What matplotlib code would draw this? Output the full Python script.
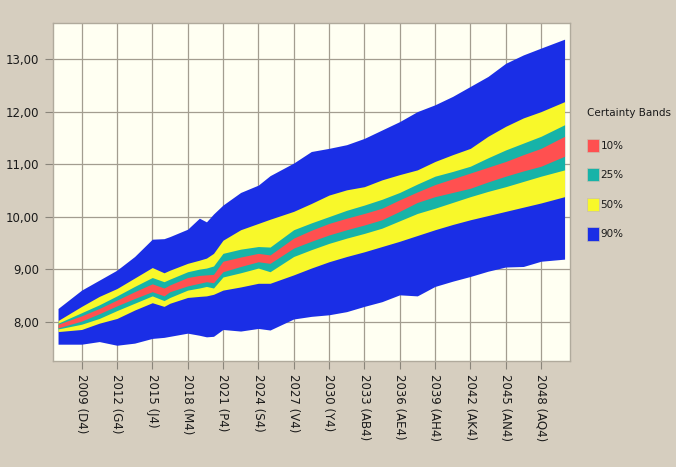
import matplotlib.pyplot as plt
from matplotlib.patches import Patch

# sample years
years = [2007, 2009, 2010.5, 2012, 2013.5, 2015, 2016, 2016.5, 2018, 2019, 2019.6, 2020.2,
         2021, 2022.5, 2024, 2025, 2027, 2028.5, 2030, 2031.5, 2033, 2034.5, 2036, 2037.5,
         2039, 2040.5, 2042, 2043.5, 2045, 2046.5, 2048, 2050]

# band edges (upper / lower) for each certainty band
blue_hi = [8.25, 8.60, 8.79, 8.98, 9.24, 9.57, 9.58, 9.62, 9.76, 9.97, 9.90, 10.05,
           10.22, 10.46, 10.60, 10.78, 11.02, 11.24, 11.30, 11.37, 11.49, 11.65, 11.81, 12.00,
           12.13, 12.29, 12.48, 12.67, 12.92, 13.08, 13.21, 13.38]
yel_hi = [8.02, 8.29, 8.48, 8.63, 8.83, 9.03, 8.93, 8.98, 9.11, 9.17, 9.21, 9.30,
          9.55, 9.75, 9.87, 9.95, 10.10, 10.25, 10.41, 10.51, 10.57, 10.70, 10.80, 10.89,
          11.05, 11.18, 11.30, 11.53, 11.72, 11.88, 12.00, 12.19]
teal_hi = [7.97, 8.17, 8.32, 8.49, 8.67, 8.84, 8.76, 8.81, 8.95, 9.00, 9.02, 9.06,
           9.30, 9.38, 9.43, 9.42, 9.75, 9.88, 10.00, 10.12, 10.22, 10.33, 10.46, 10.62,
           10.77, 10.86, 10.96, 11.12, 11.27, 11.40, 11.53, 11.75]
red_hi = [7.95, 8.11, 8.25, 8.41, 8.57, 8.72, 8.64, 8.70, 8.84, 8.88, 8.89, 8.90,
          9.15, 9.23, 9.30, 9.27, 9.59, 9.74, 9.87, 9.97, 10.06, 10.16, 10.32, 10.47,
          10.61, 10.72, 10.83, 10.94, 11.05, 11.18, 11.30, 11.53]
red_lo = [7.88, 8.01, 8.15, 8.30, 8.44, 8.57, 8.49, 8.57, 8.68, 8.73, 8.76, 8.74,
          8.95, 9.05, 9.14, 9.11, 9.40, 9.53, 9.65, 9.75, 9.84, 9.94, 10.10, 10.27,
          10.38, 10.46, 10.54, 10.66, 10.77, 10.87, 10.96, 11.15]
teal_lo = [7.86, 7.95, 8.06, 8.21, 8.35, 8.49, 8.40, 8.46, 8.60, 8.64, 8.67, 8.64,
           8.85, 8.93, 9.02, 8.95, 9.24, 9.37, 9.49, 9.59, 9.68, 9.78, 9.92, 10.06,
           10.16, 10.27, 10.38, 10.48, 10.57, 10.67, 10.77, 10.89]
yel_lo = [7.81, 7.85, 7.97, 8.06, 8.22, 8.36, 8.29, 8.35, 8.46, 8.48, 8.49, 8.52,
          8.60, 8.66, 8.73, 8.73, 8.89, 9.02, 9.14, 9.24, 9.33, 9.43, 9.53, 9.64,
          9.75, 9.85, 9.94, 10.02, 10.10, 10.18, 10.26, 10.38]
blue_lo = [7.57, 7.57, 7.62, 7.55, 7.59, 7.68, 7.70, 7.72, 7.78, 7.74, 7.71, 7.72,
           7.85, 7.82, 7.87, 7.84, 8.05, 8.10, 8.13, 8.19, 8.29, 8.38, 8.51, 8.49,
           8.67, 8.77, 8.86, 8.96, 9.04, 9.05, 9.15, 9.19]

tick_years = [2009, 2012, 2015, 2018, 2021, 2024, 2027, 2030, 2033, 2036, 2039, 2042, 2045, 2048]
tick_labels = ['2009 (D4)', '2012 (G4)', '2015 (J4)', '2018 (M4)', '2021 (P4)', '2024 (S4)',
               '2027 (V4)', '2030 (Y4)', '2033 (AB4)', '2036 (AE4)', '2039 (AH4)',
               '2042 (AK4)', '2045 (AN4)', '2048 (AQ4)']
y_ticks = [8, 9, 10, 11, 12, 13]

band_names = ['10%', '25%', '50%', '90%']
band_colors = ['#ff5050', '#17b3a8', '#f8f82a', '#1a2ee6']

bg = '#d6cebf'
fig = plt.figure(figsize=(6.76, 4.67), dpi=100, facecolor=bg)
ax = fig.add_axes([0.078, 0.227, 0.765, 0.724])
ax.set_facecolor('#fffff2')

ax.fill_between(years, blue_lo, blue_hi, color=band_colors[3], lw=0, zorder=2)
ax.fill_between(years, yel_lo, yel_hi, color=band_colors[2], lw=0, zorder=3)
ax.fill_between(years, teal_lo, teal_hi, color=band_colors[1], lw=0, zorder=4)
ax.fill_between(years, red_lo, red_hi, color=band_colors[0], lw=0, zorder=5)

ax.set_xlim(2006.55, 2050.45)
ax.set_ylim(7.25, 13.69)
ax.set_xticks(tick_years)
ax.set_xticklabels(tick_labels, rotation=-90, fontsize=8.5, color='#1a1a1a')
ax.set_yticks(y_ticks)
ax.yaxis.set_major_formatter(plt.FuncFormatter(lambda v, p: ('%.2f' % v).replace('.', ',')))
ax.tick_params(axis='y', labelsize=8.5, labelcolor='#1a1a1a')
ax.tick_params(axis='both', length=6, color='#8a857a', width=0.8)
ax.grid(True, color='#a39d90', linewidth=0.9, zorder=1)
ax.set_axisbelow(True)
for s in ax.spines.values():
    s.set_color('#b0aa9c')
    s.set_linewidth(1.0)

handles = [Patch(facecolor=c, edgecolor='#c8c0b0', linewidth=0.5) for c in band_colors]
leg = fig.legend(handles, band_names, title='Certainty Bands', loc='upper left',
                 bbox_to_anchor=(0.857, 0.785), frameon=False, fontsize=7.5,
                 title_fontsize=7.5, handlelength=1.15, handleheight=1.6,
                 handletextpad=0.2, labelspacing=1.55, borderaxespad=0.3)
leg._legend_box.align = 'left'
leg._legend_box.sep = 15
for t in leg.get_texts() + [leg.get_title()]:
    t.set_color('#1a1a1a')

fig.savefig('out.png', dpi=100, facecolor=bg)
